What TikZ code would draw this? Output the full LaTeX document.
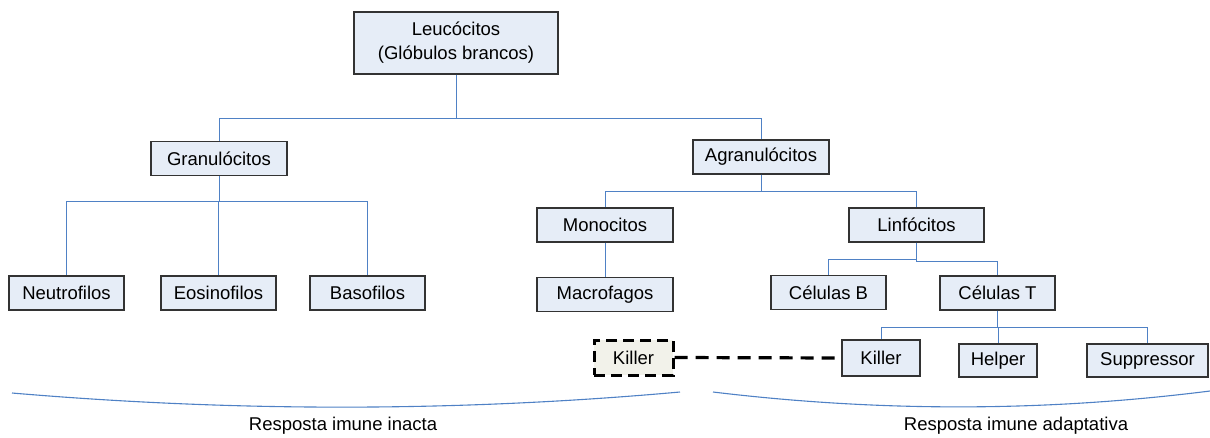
\documentclass[tikz,border=0pt]{standalone}
\usepackage{fontspec}
\setmainfont{Liberation Sans}
\usetikzlibrary{positioning,calc}

\definecolor{cellfill}{RGB}{230,237,247}
\definecolor{linkblue}{RGB}{79,129,197}
\definecolor{innatefill}{RGB}{242,242,234}

\begin{document}
\begin{tikzpicture}[
    x=1pt, y=-1pt,
    font=\fontsize{18.5}{24}\selectfont,
    box/.style={rectangle, draw=black!80, line width=1.3pt, fill=cellfill, inner sep=0pt, align=center, minimum height=34pt},
    link/.style={draw=linkblue, line width=1pt},
    dashbox/.style={box, fill=innatefill, draw=black, line width=3pt, dash pattern=on 11pt off 6pt},
    dashlink/.style={draw=black, line width=3.2pt, dash pattern=on 13pt off 8pt},
    brace/.style={draw=linkblue, line width=1.1pt}
]
\useasboundingbox (0,0) rectangle (1210,437);

% Root
\node[box, minimum width=204pt, minimum height=62pt] (leuco) at (456,43) {Leuc\'ocitos\\(Gl\'obulos brancos)};

% Second level
\node[box, minimum width=136pt] (granu) at (219,158.5) {Granul\'ocitos};
\draw[link] (leuco.south) -- ++(0,44) -| (granu.north);
\node[box, minimum width=136pt] (agranu) at (761,157) {Agranul\'ocitos};
\draw[link] (leuco.south) -- ++(0,44) -| (agranu.north);

% Granulocytes
\node[box, minimum width=115pt] (neutro) at (66.5,293) {Neutrofilos};
\draw[link] (granu.south) -- ++(0,25) -| (neutro.north);
\node[box, minimum width=115pt] (eosino) at (218.5,293) {Eosinofilos};
\draw[link] (granu.south) -- ++(0,25) -| (eosino.north);
\node[box, minimum width=115pt] (baso) at (367.5,293) {Basofilos};
\draw[link] (granu.south) -- ++(0,25) -| (baso.north);

% Agranulocytes
\node[box, minimum width=136pt] (mono) at (605,225) {Monocitos};
\draw[link] (agranu.south) -- ++(0,17) -| (mono.north);
\node[box, minimum width=135pt] (linfo) at (916.5,225) {Linf\'ocitos};
\draw[link] (agranu.south) -- ++(0,17) -| (linfo.north);
\node[box, minimum width=136pt] (macro) at (605,294.5) {Macrofagos};
\draw[link] (mono.south) -- (macro.north);

% Lymphocytes
\node[box, minimum width=115pt] (celb) at (828.5,292.5) {C\'elulas B};
\draw[link] (linfo.south) -- ++(0,17) -| (celb.north);
\node[box, minimum width=115pt] (celt) at (997.5,293) {C\'elulas T};
\draw[link] (linfo.south) -- ++(0,19) -| (celt.north);

% T cells
\node[box, minimum width=78pt, minimum height=36pt] (killer) at (881,358) {Killer};
\draw[link] (celt.south) -- ++(0,17) -| (killer.north);
\node[box, minimum width=78pt, minimum height=33pt] (helper) at (998,360.5) {Helper};
\draw[link] (celt.south) -- ++(0,17) -| (helper.north);
\node[box, minimum width=121pt, minimum height=33pt] (suppr) at (1147.5,360.5) {Suppressor};
\draw[link] (celt.south) -- ++(0,17) -| (suppr.north);

% Innate killer
\node[dashbox, minimum width=79pt, minimum height=35pt] (killerinn) at (633.5,357.5) {Killer};
\draw[dashlink] (killerinn.east) -- (killer.west);

% Braces
\draw[brace] (12,393) .. controls (235,412) and (457,412) .. (680,392);
\draw[brace] (713,392) .. controls (879,412) and (1044,412) .. (1210,391);
\node (inacta) at (343,426) {Resposta imune inacta};
\node (adapt) at (1016,426) {Resposta imune adaptativa};

\end{tikzpicture}
\end{document}
